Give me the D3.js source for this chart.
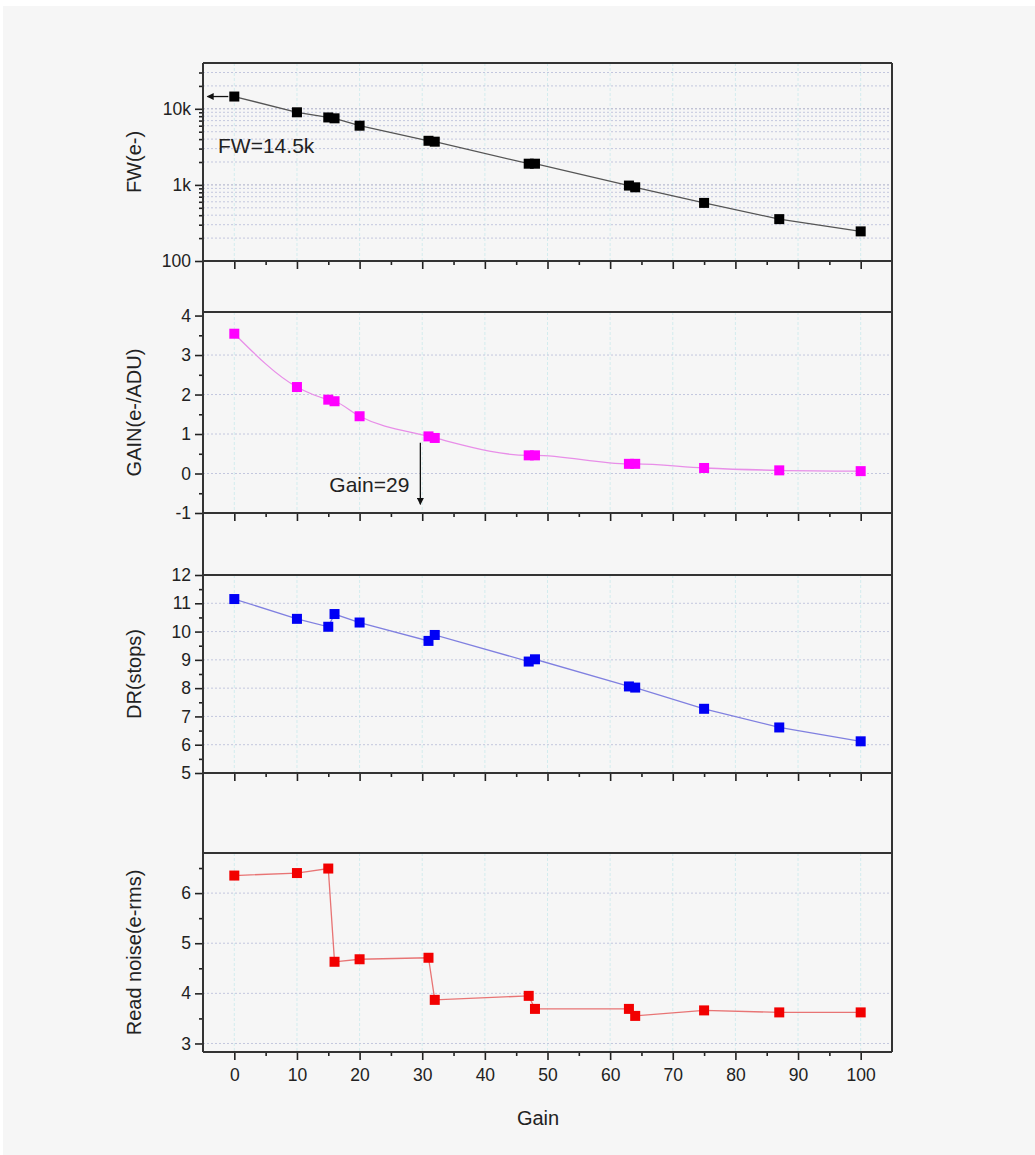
<!DOCTYPE html>
<html>
<head>
<meta charset="utf-8">
<script src="https://cdn.jsdelivr.net/npm/d3@7/dist/d3.min.js"></script>
<style>
  body { margin: 0; background: #fff; }
  text { font-family: "Liberation Sans", Arial, sans-serif; fill: #222; }
</style>
</head>
<body>
<script>
const width = 1035;
const height = 1155;

// Données
const gainSteps = [0, 10, 15, 16, 20, 31, 32, 47, 48, 63, 64, 75, 87, 100];
const fullWell = [14500, 9000, 7700, 7500, 6000, 3800, 3700, 1900, 1900, 980, 930, 580, 355, 245];
const convGain = [3.54, 2.19, 1.87, 1.83, 1.45, 0.94, 0.90, 0.46, 0.46, 0.245, 0.245, 0.14, 0.08, 0.06];
const dynRange = [11.15, 10.45, 10.17, 10.62, 10.32, 9.67, 9.88, 8.94, 9.02, 8.06, 8.02, 7.27, 6.61, 6.12];
const readNoise = [6.35, 6.40, 6.49, 4.63, 4.68, 4.71, 3.87, 3.95, 3.69, 3.69, 3.55, 3.66, 3.62, 3.62];

const xMajor = d3.range(0, 101, 10);
const xMinor = d3.range(5, 100, 10);
const fwMajor = [100, 1000, 10000];
const fwLabels = ["100", "1k", "10k"];
const fwMinor = [200, 300, 400, 500, 600, 700, 800, 900, 2000, 3000, 4000, 5000, 6000, 7000, 8000, 9000, 20000, 30000];

// Annotations (valeurs dans le repère des données)
const fwNote = { text: "FW=14.5k", arrowFrom: 0, arrowTo: -4.3, y: 14500, textX: -2.6, textY: 2630 };
const gainNote = { text: "Gain=29", x: 29.7, yFrom: 0.78, yTo: -0.78, textY: -0.48 };

const left = 203, right = 892;
const x = d3.scaleLinear().domain([-5, 105]).range([left, right]);

const svg = d3.select("body").append("svg")
    .attr("width", width)
    .attr("height", height);

// fond gris clair
svg.append("rect")
    .attr("x", 3).attr("y", 6)
    .attr("width", width - 3).attr("height", height - 6)
    .attr("fill", "#f6f6f6");

const panels = [
    { title: "FW(e-)", values: fullWell, log: true, domain: [100, 40000], top: 63, bottom: 261,
      line: "#555", marker: "#000", curve: d3.curveLinear },
    { title: "GAIN(e-/ADU)", values: convGain, domain: [-1, 4.09], top: 312, bottom: 513,
      major: [-1, 0, 1, 2, 3, 4], minor: [-0.5, 0.5, 1.5, 2.5, 3.5], grid: [0, 1, 2, 3],
      line: "#e88ee8", marker: "#ff00ff", curve: d3.curveMonotoneX },
    { title: "DR(stops)", values: dynRange, domain: [5, 12], top: 575, bottom: 773,
      major: [5, 6, 7, 8, 9, 10, 11, 12], minor: [5.5, 6.5, 7.5, 8.5, 9.5, 10.5, 11.5], grid: [6, 7, 8, 9, 10, 11],
      line: "#8080e0", marker: "#0000f5", curve: d3.curveLinear },
    { title: "Read noise(e-rms)", values: readNoise, domain: [2.83, 6.8], top: 853, bottom: 1052,
      major: [3, 4, 5, 6], minor: [3.5, 4.5, 5.5, 6.5], grid: [3, 4, 5, 6],
      line: "#e87474", marker: "#f20000", curve: d3.curveLinear }
];

panels.forEach((p, i) => {
    const y = (p.log ? d3.scaleLog() : d3.scaleLinear()).domain(p.domain).range([p.bottom, p.top]);
    const g = svg.append("g");

    // grille verticale
    g.selectAll("line.vgrid")
        .data(xMajor)
        .enter().append("line")
        .attr("x1", d => x(d)).attr("x2", d => x(d))
        .attr("y1", p.top).attr("y2", p.bottom)
        .attr("stroke", "#d3ecee")
        .attr("stroke-width", 1)
        .attr("stroke-dasharray", "3,2");

    // grille horizontale
    const gridVals = p.log ? fwMinor.concat([1000, 10000]) : p.grid;
    g.selectAll("line.hgrid")
        .data(gridVals)
        .enter().append("line")
        .attr("x1", left).attr("x2", right)
        .attr("y1", d => y(d)).attr("y2", d => y(d))
        .attr("stroke", d => (d === 1000 || d === 10000) ? "#a9acc8" : "#c3c7de")
        .attr("stroke-width", 1)
        .attr("stroke-dasharray", "2,2");

    // courbe
    const lineGen = d3.line()
        .x((d, k) => x(gainSteps[k]))
        .y(d => y(d))
        .curve(p.curve);
    g.append("path")
        .datum(p.values)
        .attr("d", lineGen)
        .attr("fill", "none")
        .attr("stroke", p.line)
        .attr("stroke-width", 1.3);

    // marqueurs carrés
    g.selectAll("rect.pt")
        .data(p.values)
        .enter().append("rect")
        .attr("x", (d, k) => x(gainSteps[k]) - 5)
        .attr("y", d => y(d) - 5)
        .attr("width", 10).attr("height", 10)
        .attr("fill", p.marker);

    // axe Y
    const yAxis = d3.axisLeft(y).tickSizeOuter(0).tickSize(8).tickPadding(4);
    if (p.log) {
        yAxis.tickValues(fwMajor).tickFormat((d, k) => fwLabels[k]);
    } else {
        yAxis.tickValues(p.major).tickFormat(d => String(d));
    }
    const ya = g.append("g").attr("transform", `translate(${left},0)`).call(yAxis);
    const yMinorAxis = d3.axisLeft(y).tickSize(4).tickFormat("")
        .tickValues(p.log ? fwMinor : p.minor);
    const ym = g.append("g").attr("transform", `translate(${left},0)`).call(yMinorAxis);
    [ya, ym].forEach(a => {
        a.select(".domain").remove();
        a.selectAll("line").attr("stroke", "#222").attr("stroke-width", 1.6);
        a.selectAll("text").attr("font-size", 17.5).attr("fill", "#222");
    });

    // axe X en bas de chaque panneau
    const last = i === panels.length - 1;
    const xAxis = d3.axisBottom(x).tickValues(xMajor).tickSize(8).tickPadding(9)
        .tickFormat(last ? d => String(d) : "");
    const xa = g.append("g").attr("transform", `translate(0,${p.bottom})`).call(xAxis);
    const xm = g.append("g").attr("transform", `translate(0,${p.bottom})`)
        .call(d3.axisBottom(x).tickValues(xMinor).tickSize(4).tickFormat(""));
    [xa, xm].forEach(a => {
        a.select(".domain").remove();
        a.selectAll("line").attr("stroke", "#222").attr("stroke-width", 1.6);
        a.selectAll("text").attr("font-size", 17.5).attr("fill", "#222");
    });

    // cadre haut / bas
    g.append("line").attr("x1", left).attr("x2", right).attr("y1", p.top).attr("y2", p.top)
        .attr("stroke", "#333").attr("stroke-width", 2);
    g.append("line").attr("x1", left).attr("x2", right).attr("y1", p.bottom).attr("y2", p.bottom)
        .attr("stroke", "#333").attr("stroke-width", 2);

    // titre de l'axe Y
    svg.append("text")
        .attr("transform", `translate(141,${(p.top + p.bottom) / 2}) rotate(-90)`)
        .attr("text-anchor", "middle")
        .attr("font-size", 20)
        .text(p.title);

    p.y = y;
});

// axes verticaux continus
[left, right].forEach(xx => {
    svg.append("line")
        .attr("x1", xx).attr("x2", xx)
        .attr("y1", panels[0].top).attr("y2", panels[panels.length - 1].bottom)
        .attr("stroke", "#333").attr("stroke-width", 2);
});

// flèches
const defs = svg.append("defs");
defs.append("marker")
    .attr("id", "arrow")
    .attr("viewBox", "0 0 10 10")
    .attr("refX", 9).attr("refY", 5)
    .attr("markerWidth", 9).attr("markerHeight", 7)
    .attr("markerUnits", "userSpaceOnUse")
    .attr("orient", "auto")
    .append("path")
    .attr("d", "M0,0 L10,5 L0,10 z")
    .attr("fill", "#111");

const yFW = panels[0].y;
svg.append("line")
    .attr("x1", x(fwNote.arrowFrom) - 6).attr("x2", x(fwNote.arrowTo))
    .attr("y1", yFW(fwNote.y)).attr("y2", yFW(fwNote.y))
    .attr("stroke", "#111").attr("stroke-width", 1.3)
    .attr("marker-end", "url(#arrow)");
svg.append("text")
    .attr("x", x(fwNote.textX)).attr("y", yFW(fwNote.textY))
    .attr("font-size", 21)
    .text(fwNote.text);

const yG = panels[1].y;
svg.append("line")
    .attr("x1", x(gainNote.x)).attr("x2", x(gainNote.x))
    .attr("y1", yG(gainNote.yFrom)).attr("y2", yG(gainNote.yTo))
    .attr("stroke", "#111").attr("stroke-width", 1.3)
    .attr("marker-end", "url(#arrow)");
svg.append("text")
    .attr("x", x(gainNote.x) - 11).attr("y", yG(gainNote.textY))
    .attr("text-anchor", "end")
    .attr("font-size", 21)
    .text(gainNote.text);

// titre de l'axe X
svg.append("text")
    .attr("x", 538).attr("y", 1125)
    .attr("text-anchor", "middle")
    .attr("font-size", 20)
    .text("Gain");
</script>
</body>
</html>
